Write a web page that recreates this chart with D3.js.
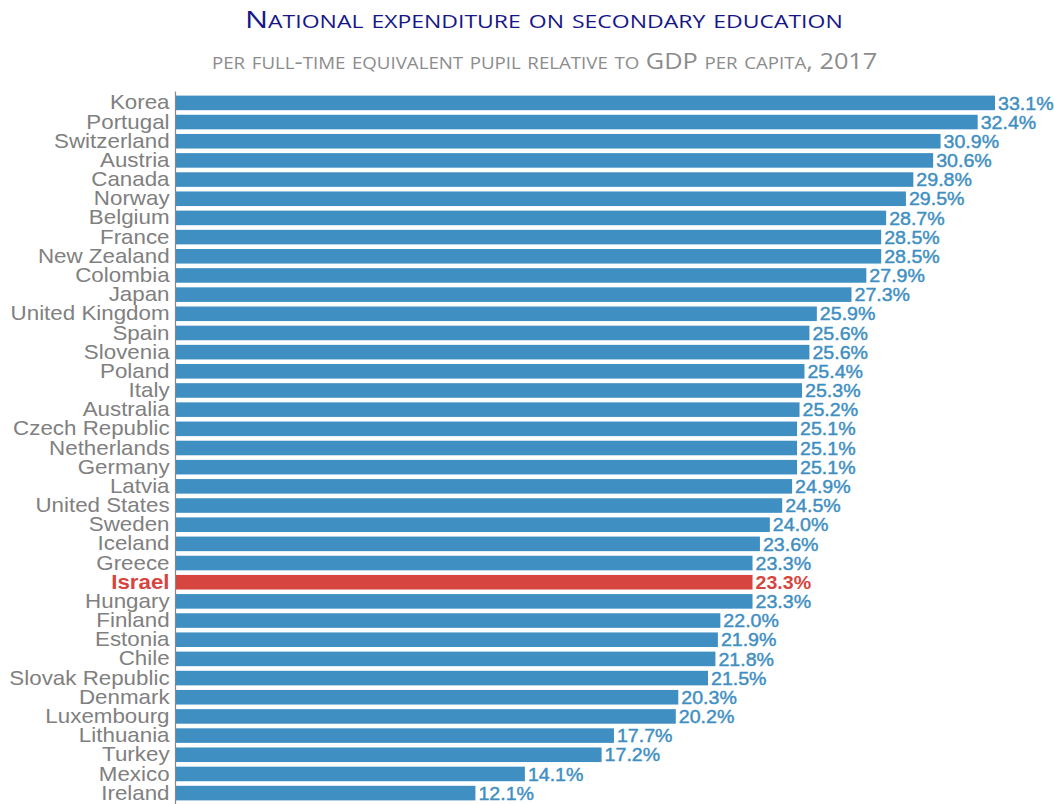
<!DOCTYPE html>
<html>
<head>
<meta charset="utf-8">
<script src="https://cdn.jsdelivr.net/npm/d3@7"></script>
<style>
  body { margin: 0; background: #fff; }
  svg { display: block; }
</style>
</head>
<body>
<div id="chart"></div>
<script>
const countries = ['Korea', 'Portugal', 'Switzerland', 'Austria', 'Canada', 'Norway', 'Belgium',
  'France', 'New Zealand', 'Colombia', 'Japan', 'United Kingdom', 'Spain', 'Slovenia', 'Poland',
  'Italy', 'Australia', 'Czech Republic', 'Netherlands', 'Germany', 'Latvia', 'United States',
  'Sweden', 'Iceland', 'Greece', 'Israel', 'Hungary', 'Finland', 'Estonia', 'Chile',
  'Slovak Republic', 'Denmark', 'Luxembourg', 'Lithuania', 'Turkey', 'Mexico', 'Ireland'];
const values = [33.1, 32.4, 30.9, 30.6, 29.8, 29.5, 28.7, 28.5, 28.5, 27.9, 27.3, 25.9, 25.6,
  25.6, 25.4, 25.3, 25.2, 25.1, 25.1, 25.1, 24.9, 24.5, 24.0, 23.6, 23.3, 23.3, 23.3, 22.0,
  21.9, 21.8, 21.5, 20.3, 20.2, 17.7, 17.2, 14.1, 12.1];
const highlight = 'Israel';

const data = countries.map((c, i) => ({ country: c, value: values[i] }));

const width = 1054;
const height = 804;
const margin = { top: 91, right: 59, bottom: -1, left: 176 };

const blue = '#3f8fc2';
const red = '#d6453f';

const svg = d3.select('#chart')
  .append('svg')
  .attr('width', width)
  .attr('height', height);

// small caps built by hand: capitals/digits big, lower case letters uppercased and smaller
function smallCaps(sel, str, big, small) {
  const runs = [];
  for (const ch of str) {
    const isSmall = ch !== ch.toUpperCase();
    const last = runs[runs.length - 1];
    if (last && last.small === isSmall) last.t += ch;
    else runs.push({ small: isSmall, t: ch });
  }
  runs.forEach((r) => {
    sel.append('tspan')
      .attr('font-size', r.small ? small : big)
      .text(r.small ? r.t.toUpperCase() : r.t);
  });
}

// fit a title to the width it has in the original by squeezing / widening the glyphs
function fitWidth(sel, left, target) {
  const w = sel.node().getComputedTextLength();
  sel.attr('transform', `translate(${left},0) scale(${target / w},1)`);
}

const title = svg.append('text')
  .attr('x', 0)
  .attr('y', 28)
  .style('font-family', '"Open Sans", sans-serif')
  .style('fill', '#16168a');
smallCaps(title, 'National expenditure on secondary education', 24, 18);
fitWidth(title, 245, 598);

const subtitle = svg.append('text')
  .attr('x', 0)
  .attr('y', 69)
  .style('font-family', '"Open Sans", sans-serif')
  .style('fill', '#8c8c8c');
smallCaps(subtitle, 'per full-time equivalent pupil relative to GDP per capita, 2017', 21, 15.5);
fitWidth(subtitle, 212, 666);

const x = d3.scaleLinear()
  .domain([0, d3.max(values)])
  .range([margin.left, width - margin.right]);

const y = d3.scaleBand()
  .domain(countries)
  .range([margin.top, height - margin.bottom])
  .padding(0.24);

const colorOf = (d) => (d.country === highlight ? red : blue);

svg.selectAll('rect.bar')
  .data(data)
  .enter()
  .append('rect')
  .attr('class', 'bar')
  .attr('x', x(0))
  .attr('y', (d) => y(d.country))
  .attr('width', (d) => x(d.value) - x(0))
  .attr('height', y.bandwidth())
  .attr('fill', colorOf);

// value labels
svg.selectAll('text.val')
  .data(data)
  .enter()
  .append('text')
  .attr('class', 'val')
  .attr('transform', (d) =>
    `translate(${x(d.value) + 3},${y(d.country) + y.bandwidth() / 2}) scale(1.06,1)`)
  .attr('dy', '0.36em')
  .style('font-family', '"Liberation Sans", Arial, sans-serif')
  .style('font-size', '18.5px')
  .style('font-weight', (d) => (d.country === highlight ? 'bold' : 'normal'))
  .style('stroke', (d) => (d.country === highlight ? 'none' : colorOf(d)))
  .style('stroke-width', 0.45)
  .style('fill', colorOf)
  .text((d) => d.value.toFixed(1) + '%');

// y axis
const yAxis = svg.append('g')
  .attr('transform', `translate(${margin.left - 1},0)`)
  .call(d3.axisLeft(y).tickSize(0).tickPadding(5));

yAxis.select('.domain')
  .attr('stroke', '#888')
  .attr('stroke-width', 1.2);

yAxis.selectAll('text')
  .attr('transform', 'scale(1.09,1)')
  .style('font-family', '"Liberation Sans", Arial, sans-serif')
  .style('font-size', '20.5px')
  .style('fill', (d) => (d === highlight ? red : '#808080'))
  .style('font-weight', (d) => (d === highlight ? 'bold' : 'normal'));
</script>
</body>
</html>
